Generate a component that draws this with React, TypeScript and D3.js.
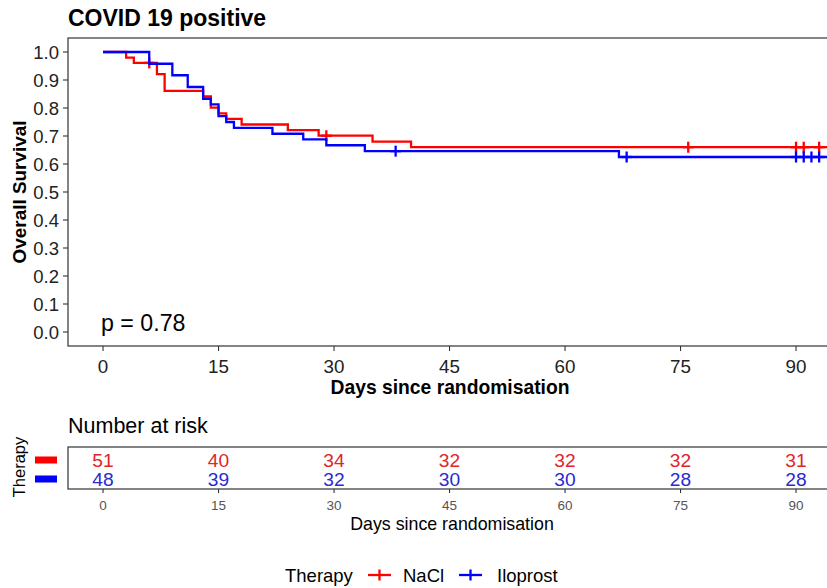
import React from "react";
import * as d3 from "d3";

// ---- data ----
const nacl_times = [0, 3, 4, 7, 8, 13, 14, 15, 16, 18, 24, 28, 35, 40];
const nacl_surv = [1, 0.980, 0.961, 0.921, 0.861, 0.841, 0.801, 0.781, 0.761, 0.741, 0.721, 0.701, 0.680, 0.660];
const nacl_censor = [6, 29, 76, 90, 91, 93];

const ilo_times = [0, 6, 9, 11, 13, 14, 15, 16, 17, 22, 26, 29, 34, 67];
const ilo_surv = [1, 0.958, 0.917, 0.875, 0.833, 0.813, 0.771, 0.750, 0.729, 0.708, 0.688, 0.667, 0.646, 0.625];
const ilo_censor = [38, 68, 90, 91, 92, 93];

const end_time = 95;

const risk_times = [0, 15, 30, 45, 60, 75, 90];
const risk_nacl = [51, 40, 34, 32, 32, 32, 31];
const risk_ilo = [48, 39, 32, 30, 30, 28, 28];

const x_ticks = [0, 15, 30, 45, 60, 75, 90];
const y_ticks = [0, 0.1, 0.2, 0.3, 0.4, 0.5, 0.6, 0.7, 0.8, 0.9, 1.0];

const groups = [
  { name: "NaCl", color: "#ff0000", times: nacl_times, surv: nacl_surv, censor: nacl_censor, risk: risk_nacl, textColor: "#e0252b" },
  { name: "Iloprost", color: "#0000ff", times: ilo_times, surv: ilo_surv, censor: ilo_censor, risk: risk_ilo, textColor: "#2a2ad0" },
];

const FONT = "'Liberation Sans', Arial, Helvetica, sans-serif";

export default function App() {
  const W = 827, H = 588;
  const left = 68, right = 838, top = 38, bottom = 346;
  const x = d3.scaleLinear().domain([-4.55, 95.45]).range([left, right]);
  const y = d3.scaleLinear().domain([-0.05, 1.05]).range([bottom, top]);

  const line = d3.line<[number, number]>().x(d => x(d[0])).y(d => y(d[1])).curve(d3.curveStepAfter);

  const survAt = (times: number[], surv: number[], t: number) => {
    const i = d3.bisectRight(times, t) - 1;
    return surv[Math.max(0, i)];
  };

  // risk table
  const rTop = 447, rBottom = 489;
  const rowY = [466.5, 485.5];

  return (
    <svg width={W} height={H} style={{ position: "absolute", left: 0, top: 0, background: "#fff" }} fontFamily={FONT}>
      <rect x={0} y={0} width={W} height={H} fill="#fff" />
      {/* title */}
      <text x={68} y={26} fontSize={23} fontWeight="bold" fill="#000">COVID 19 positive</text>

      {/* panel */}
      <rect x={left} y={top} width={right - left} height={bottom - top} fill="#fff" stroke="#333" strokeWidth={1.2} />

      {/* y axis */}
      {y_ticks.map(t => (
        <g key={"y" + t}>
          <line x1={left - 5} x2={left} y1={y(t)} y2={y(t)} stroke="#333" strokeWidth={1.1} />
          <text x={left - 9} y={y(t)} dy="0.36em" textAnchor="end" fontSize={18.5} fill="#222">{t.toFixed(1)}</text>
        </g>
      ))}
      <text transform={`translate(26,${(top + bottom) / 2}) rotate(-90)`} textAnchor="middle" fontSize={18.9} fontWeight="bold" fill="#000">Overall Survival</text>

      {/* x axis */}
      {x_ticks.map(t => (
        <g key={"x" + t}>
          <line x1={x(t)} x2={x(t)} y1={bottom} y2={bottom + 5} stroke="#333" strokeWidth={1.1} />
          <text x={x(t)} y={bottom + 27} textAnchor="middle" fontSize={18.8} fill="#222">{t}</text>
        </g>
      ))}
      <text x={450} y={394} textAnchor="middle" fontSize={19.3} fontWeight="bold" fill="#000">Days since randomisation</text>

      {/* curves */}
      {groups.map(g => {
        const pts: [number, number][] = g.times.map((t, i) => [t, g.surv[i]] as [number, number]);
        pts.push([end_time, g.surv[g.surv.length - 1]]);
        return (
          <g key={g.name}>
            <path d={line(pts) || ""} fill="none" stroke={g.color} strokeWidth={2.3} />
            {g.censor.map((c, i) => {
              const cx = x(c), cy = y(survAt(g.times, g.surv, c));
              return (
                <g key={i} stroke={g.color} strokeWidth={2.3}>
                  <line x1={cx - 5.5} x2={cx + 5.5} y1={cy} y2={cy} />
                  <line x1={cx} x2={cx} y1={cy - 5.5} y2={cy + 5.5} />
                </g>
              );
            })}
          </g>
        );
      })}

      {/* p value */}
      <text x={101} y={331} fontSize={23.2} fill="#000">p = 0.78</text>

      {/* risk table */}
      <text x={68} y={433} fontSize={21.5} fill="#000">Number at risk</text>
      <rect x={left} y={rTop} width={right - left} height={rBottom - rTop} fill="#fff" stroke="#333" strokeWidth={1.2} />
      {groups.map((g, gi) => (
        <g key={"r" + g.name}>
          {risk_times.map((t, i) => (
            <text key={i} x={x(t)} y={rowY[gi]} textAnchor="middle" fontSize={19.2} fill={g.textColor}>{g.risk[i]}</text>
          ))}
          <rect x={35} y={gi === 0 ? 456.5 : 475.5} width={22} height={7} fill={g.color} />
        </g>
      ))}
      {risk_times.map(t => (
        <g key={"rt" + t}>
          <line x1={x(t)} x2={x(t)} y1={rBottom} y2={rBottom + 4} stroke="#333" strokeWidth={1.1} />
          <text x={x(t)} y={510} textAnchor="middle" fontSize={13.5} fill="#555">{t}</text>
        </g>
      ))}
      <text x={452} y={530} textAnchor="middle" fontSize={17.8} fill="#000">Days since randomisation</text>
      <text transform={`translate(25,467) rotate(-90)`} textAnchor="middle" fontSize={16.5} fill="#000">Therapy</text>

      {/* legend */}
      <text x={285} y={582} fontSize={18.5} fill="#000">Therapy</text>
      {groups.map((g, gi) => {
        const kx = gi === 0 ? 368 : 459;
        const tx = gi === 0 ? 403 : 497;
        const cy = 575;
        return (
          <g key={"lg" + g.name}>
            <line x1={kx} x2={kx + 23} y1={cy} y2={cy} stroke={g.color} strokeWidth={2.3} />
            <line x1={kx + 11.5} x2={kx + 11.5} y1={cy - 5.5} y2={cy + 5.5} stroke={g.color} strokeWidth={2.3} />
            <text x={tx} y={582} fontSize={18.5} fill="#000">{g.name}</text>
          </g>
        );
      })}
    </svg>
  );
}
